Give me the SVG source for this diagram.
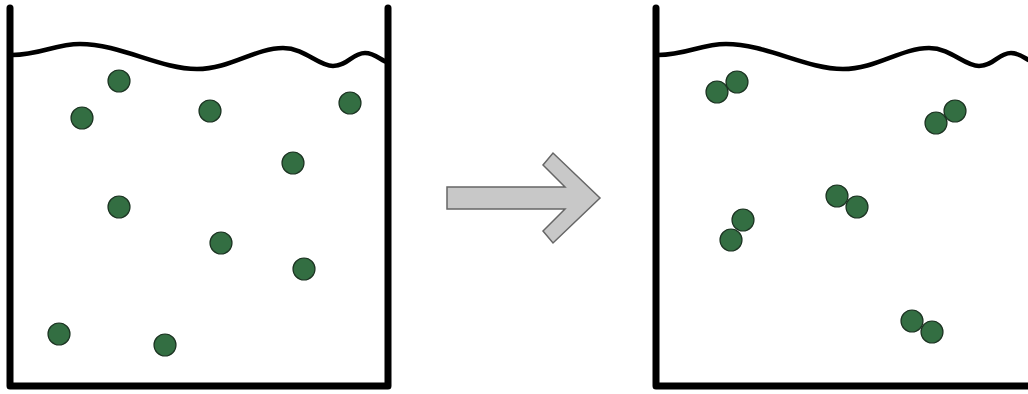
<svg xmlns="http://www.w3.org/2000/svg" width="1028" height="394" viewBox="0 0 1028 394">
  <style>
    .wall { fill: none; stroke: #000; stroke-width: 7; stroke-linecap: round; stroke-linejoin: round; }
    .water { fill: none; stroke: #000; stroke-width: 4.5; stroke-linecap: round; }
    .p { fill: #336e42; stroke: #1c3322; stroke-width: 1.2; }
    .arrow { fill: #c8c8c8; stroke: #666; stroke-width: 1.5; stroke-linejoin: miter; }
  </style>
  <defs>
    <path id="surface" d="M12,55 C40,55 55,44 80,44 C120,44 160,69 197,69 C230,69 255,48 283,48 C305,48 318,66 333,66 C348,66 352,53 365,53 C376,53 382,62 388,62"/>
  </defs>

  <!-- Beaker before: separate particles -->
  <g id="beaker-left">
    <path class="wall" d="M10,8 L10,386 L388,386 L388,8"/>
    <use href="#surface" class="water"/>
    <g id="particles-left">
      <circle class="p" cx="119" cy="81" r="11"/>
      <circle class="p" cx="82" cy="118" r="11"/>
      <circle class="p" cx="210" cy="111" r="11"/>
      <circle class="p" cx="350" cy="103" r="11"/>
      <circle class="p" cx="293" cy="163" r="11"/>
      <circle class="p" cx="119" cy="207" r="11"/>
      <circle class="p" cx="221" cy="243" r="11"/>
      <circle class="p" cx="304" cy="269" r="11"/>
      <circle class="p" cx="59" cy="334" r="11"/>
      <circle class="p" cx="165" cy="345" r="11"/>
    </g>
  </g>

  <!-- Transition arrow -->
  <g id="arrow">
    <polygon class="arrow" points="447,187 565,187 543,165 553,153 600,198 553,243 543,231 565,209 447,209"/>
  </g>

  <!-- Beaker after: paired particles -->
  <g id="beaker-right">
    <path class="wall" d="M656,8 L656,386 L1034,386 L1034,8"/>
    <use href="#surface" class="water" transform="translate(646,0)"/>
    <g id="particles-right">
      <circle class="p" cx="717" cy="92" r="11"/>
      <circle class="p" cx="737" cy="82" r="11"/>
      <circle class="p" cx="936" cy="123" r="11"/>
      <circle class="p" cx="955" cy="111" r="11"/>
      <circle class="p" cx="743" cy="220" r="11"/>
      <circle class="p" cx="731" cy="240" r="11"/>
      <circle class="p" cx="837" cy="196" r="11"/>
      <circle class="p" cx="857" cy="207" r="11"/>
      <circle class="p" cx="912" cy="321" r="11"/>
      <circle class="p" cx="932" cy="332" r="11"/>
    </g>
  </g>
</svg>
